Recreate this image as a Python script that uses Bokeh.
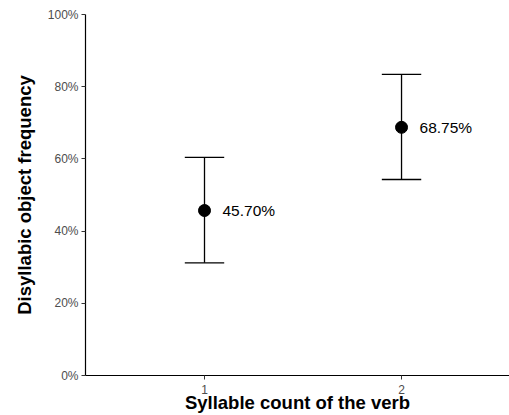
from bokeh.plotting import figure
from bokeh.models import FixedTicker, NumeralTickFormatter, Range1d, ColumnDataSource
from bokeh.core.properties import value
from bokeh.embed import file_html
from bokeh.resources import INLINE

# data
syllables = [1, 2]
freq = [0.4570, 0.6875]
lower = [0.312, 0.543]
upper = [0.604, 0.834]
labels = ["45.70%", "68.75%"]
y_ticks = [0, 0.2, 0.4, 0.6, 0.8, 1.0]

cap_half = 0.1
src = ColumnDataSource(dict(
    x=syllables, y=freq, lo=lower, hi=upper, lab=labels,
    xl=[s - cap_half for s in syllables], xr=[s + cap_half for s in syllables],
))

p = figure(width=509, height=415, output_backend="svg", toolbar_location=None,
           x_range=Range1d(0.396, 2.548), y_range=Range1d(0, 1.0),
           min_border_left=85, min_border_right=0, min_border_top=14, min_border_bottom=40)
p.outline_line_color = None
p.xgrid.grid_line_color = None
p.ygrid.grid_line_color = None
p.background_fill_color = "white"

p.segment(x0="x", y0="lo", x1="x", y1="hi", source=src, line_color="black", line_width=1.3)
p.segment(x0="xl", y0="lo", x1="xr", y1="lo", source=src, line_color="black", line_width=1.3)
p.segment(x0="xl", y0="hi", x1="xr", y1="hi", source=src, line_color="black", line_width=1.3)
p.scatter(x="x", y="y", source=src, size=12, color="black")
p.text(x="x", y="y", text="lab", source=src, x_offset=18, text_baseline="middle",
       text_align="left", text_font=value("Liberation Sans"), text_font_size="15.5px",
       text_color="black")

for ax in (p.xaxis[0], p.yaxis[0]):
    ax.axis_line_color = "black"
    ax.axis_line_width = 1.2
    ax.major_tick_line_color = "#333333"
    ax.major_tick_in = 0
    ax.major_tick_out = 4
    ax.minor_tick_line_color = None
    ax.major_label_text_font = "Liberation Sans"
    ax.major_label_text_font_size = "12px"
    ax.major_label_text_color = "#4d4d4d"
    ax.axis_label_text_font = "Liberation Sans"
    ax.axis_label_text_font_size = "18.5px"
    ax.axis_label_text_font_style = "bold"
    ax.axis_label_text_color = "black"

p.xaxis.ticker = FixedTicker(ticks=syllables)
p.xaxis.major_label_standoff = 5
p.xaxis.axis_label = "Syllable count of the verb"
p.xaxis.axis_label_standoff = -5

p.yaxis.ticker = FixedTicker(ticks=y_ticks)
p.yaxis.formatter = NumeralTickFormatter(format="0%")
p.yaxis.major_label_standoff = 3
p.yaxis.axis_label = "Disyllabic object frequency"
p.yaxis.axis_label_standoff = 10

open("out.html", "w").write(file_html(p, INLINE))
